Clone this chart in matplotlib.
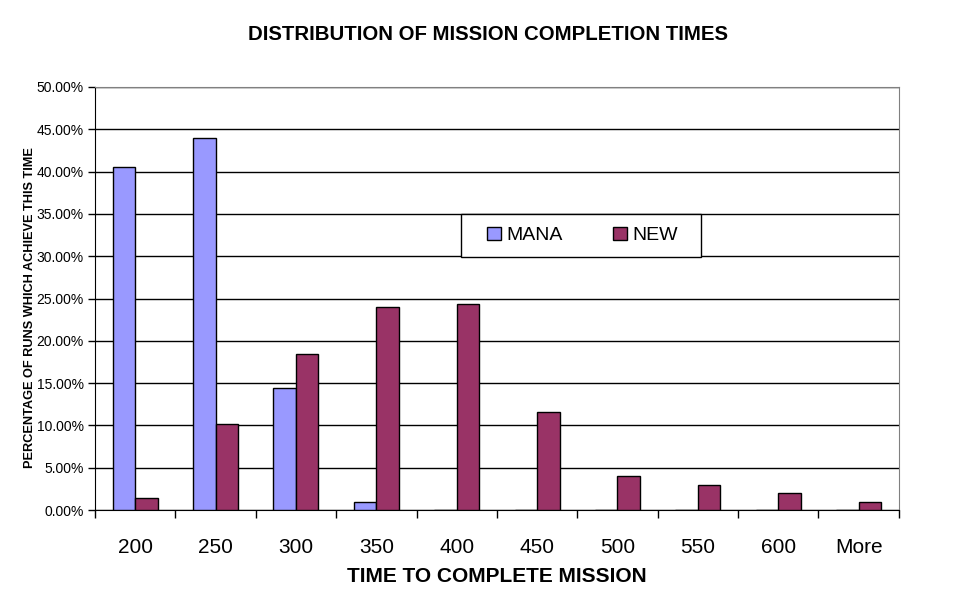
import numpy as np
import matplotlib
matplotlib.use("Agg")
import matplotlib.pyplot as plt
from matplotlib.patches import Rectangle
from matplotlib.ticker import FuncFormatter

plt.rcParams['font.family'] = ['Liberation Sans', 'DejaVu Sans']

# data
categories = ['200', '250', '300', '350', '400', '450', '500', '550', '600', 'More']
mana = [40.5, 44.0, 14.4, 0.9, 0, 0, 0, 0, 0, 0]
new = [1.4, 10.2, 18.4, 24.0, 24.4, 11.6, 4.0, 3.0, 2.0, 1.0]

fig = plt.figure(figsize=(9.77, 6.0), dpi=100)
ax = fig.add_axes([0.0972, 0.15, 0.8228, 0.705])

x = np.arange(len(categories))
w = 0.28
ax.bar(x - w / 2, mana, w, color='#9999FF', edgecolor='black', linewidth=1, label='MANA', zorder=3)
ax.bar(x + w / 2, new, w, color='#993366', edgecolor='black', linewidth=1, label='NEW', zorder=3)

ax.set_xlim(-0.5, len(categories) - 0.5)
ax.set_ylim(0, 50)
ax.set_yticks(np.arange(0, 51, 5))
ax.yaxis.set_major_formatter(FuncFormatter(lambda v, p: f'{v:.2f}%'))
ax.yaxis.grid(True, color='black', linewidth=1, zorder=0)

# category labels centred, tick marks between categories
ax.set_xticks(np.arange(-0.5, len(categories), 1))
ax.set_xticklabels([])
ax.set_xticks(x, minor=True)
ax.set_xticklabels(categories, minor=True, fontsize=15)
ax.tick_params(axis='x', which='minor', length=0, pad=20)
ax.tick_params(axis='x', which='major', length=6, direction='out', width=1)
ax.tick_params(axis='y', length=5, direction='out', width=1, labelsize=10, pad=3)

ax.spines['top'].set_color('#808080')
ax.spines['right'].set_color('#808080')

fig.text(0.5, 0.9417, 'DISTRIBUTION OF MISSION COMPLETION TIMES', fontsize=14.7,
         fontweight='bold', ha='center', va='center')
ax.set_xlabel('TIME TO COMPLETE MISSION', fontsize=15, fontweight='bold', labelpad=7)
ax.set_ylabel('PERCENTAGE OF RUNS WHICH ACHIEVE THIS TIME', fontsize=9.2, fontweight='bold')
ax.yaxis.set_label_coords(-0.0734, 0.479)

# legend frame drawn separately so the box size matches
ax.add_patch(Rectangle((0.455, 0.598), 0.2985, 0.1016, transform=ax.transAxes,
                       facecolor='white', edgecolor='black', linewidth=1, zorder=4))
leg = ax.legend(loc='center left', bbox_to_anchor=(0.4876, 0.649), ncol=2, fontsize=14,
                frameon=False, handlelength=0.7, handleheight=0.7, handletextpad=0.3,
                columnspacing=2.6, borderpad=0, borderaxespad=0)
leg.set_zorder(5)

fig.savefig('out.png', dpi=100, facecolor='white')
